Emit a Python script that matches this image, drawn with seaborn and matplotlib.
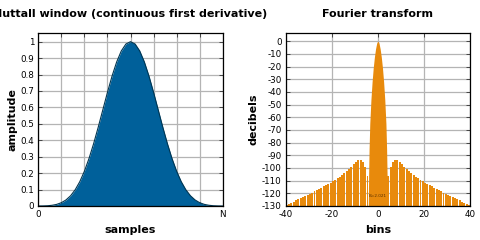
import numpy as np
import matplotlib
matplotlib.use("Agg")
import matplotlib.pyplot as plt
import seaborn as sns

# ---- data ----
# window: sample position as fraction of N, amplitude
win_pos = [i / 40 for i in range(41)]
win_amp = [0.0000, 0.0003, 0.0015, 0.0043, 0.0099, 0.0200, 0.0367, 0.0622,
           0.0987, 0.1481, 0.2115, 0.2891, 0.3795, 0.4798, 0.5857, 0.6915,
           0.7908, 0.8768, 0.9434, 0.9856, 1.0000, 0.9856, 0.9434, 0.8768,
           0.7908, 0.6915, 0.5857, 0.4798, 0.3795, 0.2891, 0.2115, 0.1481,
           0.0987, 0.0622, 0.0367, 0.0200, 0.0099, 0.0043, 0.0015, 0.0003,
           0.0000]

# spectrum: main lobe (bins offset from 0, decibels), one side
main_bins = [0.0, 0.25, 0.5, 1.0, 1.5, 2.0, 2.5, 3.0, 3.5, 3.8, 4.0, 4.15]
main_db = [0.0, -0.5, -1.5, -6.0, -12.5, -21.0, -32.0, -46.0, -65.0, -85.0, -105.0, -130.0]

# spectrum: side-lobe peaks (bin centre, decibels), one side
side_bins = [4.5 + i for i in range(36)]
side_db = [-106, -99, -95, -93.5, -93.5, -95, -97, -99, -101, -102.5,
           -104, -105.5, -107, -108, -109.5, -110.5, -111.5, -112.5, -113.5, -114.5,
           -115.5, -116.5, -117.5, -118.5, -119.5, -120.5, -121, -122, -123, -124,
           -124.5, -125.5, -126.5, -127.5, -128.5, -129.5]

floor_db = -130
bw_text = "B=2.021"

# ---- styling ----
sns.set_theme(style="whitegrid")
plt.rcParams["font.family"] = ["DejaVu Sans"]
plt.rcParams["axes.unicode_minus"] = False
plt.rcParams["text.color"] = "black"
plt.rcParams["axes.labelcolor"] = "black"
plt.rcParams["xtick.color"] = "black"
plt.rcParams["ytick.color"] = "black"

fig = plt.figure(figsize=(4.8, 2.4), dpi=100)
ax1 = fig.add_axes([0.0798, 0.1417, 0.3842, 0.7196])
ax2 = fig.add_axes([0.5952, 0.1417, 0.3840, 0.7196])

blue = "#00609a"
orange = "#e88a0c"
grid_c = "#b4b4b4"

# window
ax1.fill_between(win_pos, win_amp, 0, color=blue, linewidth=0, zorder=2)
sns.lineplot(x=win_pos, y=win_amp, ax=ax1, color="#003652", linewidth=0.8, zorder=3)
ax1.set_xlim(0, 1)
ax1.set_ylim(0, 1.051)
ax1.set_xticks([i / 8 for i in range(9)])
ax1.set_xticklabels(["0"] + [""] * 7 + ["N"])
ax1.set_yticks([i / 10 for i in range(11)])
ax1.set_yticklabels(["0"] + [f"{i/10:.1f}" for i in range(1, 10)] + ["1"])
ax1.set_title("Nuttall window (continuous first derivative)", fontsize=8,
              fontweight="bold", pad=12, color="black")
ax1.set_xlabel("samples", fontsize=8, fontweight="bold", labelpad=4)
ax1.set_ylabel("amplitude", fontsize=8, fontweight="bold", labelpad=2)

# spectrum
mx = [-b for b in main_bins[::-1]] + main_bins[1:]
my = main_db[::-1] + main_db[1:]
ax2.fill_between(mx, my, floor_db, color=orange, linewidth=0, zorder=2)
sx = [-b for b in side_bins[::-1]] + side_bins
sy = side_db[::-1] + side_db
ax2.bar(sx, [v - floor_db for v in sy], bottom=floor_db, width=0.85,
        color=orange, linewidth=0, zorder=2)
ax2.text(0, -122.5, bw_text, fontsize=3, ha="center", va="center",
         color="#5a3000", zorder=4)
ax2.set_xlim(-40, 40)
ax2.set_ylim(-130, 6.3)
ax2.set_xticks([-40, -20, 0, 20, 40])
ax2.set_yticks(list(range(-130, 1, 10)))
ax2.set_title("Fourier transform", fontsize=8, fontweight="bold", pad=12,
              color="black")
ax2.set_xlabel("bins", fontsize=8, fontweight="bold", labelpad=4)
ax2.set_ylabel("decibels", fontsize=8, fontweight="bold", labelpad=2)

for ax in (ax1, ax2):
    ax.set_facecolor("white")
    ax.grid(True, color=grid_c, linewidth=0.9, zorder=0)
    ax.set_axisbelow(True)
    for s in ax.spines.values():
        s.set_color("black")
        s.set_linewidth(0.9)
        s.set_zorder(5)
    ax.tick_params(axis="both", direction="in", length=3, width=0.6,
                   color="#333333", labelsize=6.3, pad=3,
                   right=True, top=True, left=True, bottom=True)

fig.savefig("out.png", dpi=100, facecolor="white")
